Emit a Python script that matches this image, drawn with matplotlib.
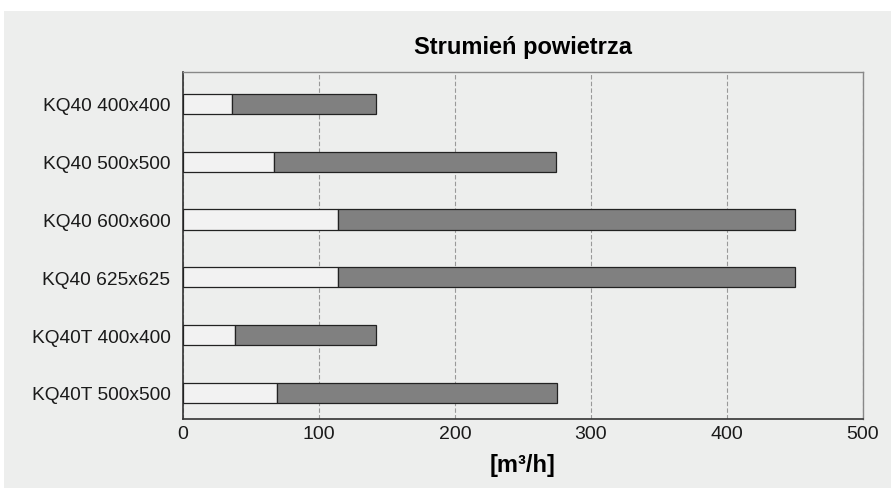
import matplotlib.pyplot as plt
from matplotlib.patches import Rectangle

plt.rcParams['font.family'] = ['Liberation Sans', 'DejaVu Sans']

labels = ['KQ40 400x400', 'KQ40 500x500', 'KQ40 600x600',
          'KQ40 625x625', 'KQ40T 400x400', 'KQ40T 500x500']
flow_min = [36, 67, 114, 114, 38, 69]
flow_max = [142, 274, 450, 450, 142, 275]

bg = '#edeeed'
fig = plt.figure(figsize=(8.91, 4.89), dpi=100)
fig.patch.set_facecolor('white')
fig.patches.append(Rectangle((0.004, 0), 0.996, 1 - 12 / 489, transform=fig.transFigure,
                             facecolor=bg, edgecolor='none', zorder=-10))

ax = fig.add_axes([183 / 891, 1 - 420 / 489, 680 / 891, 347 / 489])
ax.set_facecolor(bg)

pos = list(range(len(labels)))
ax.barh(pos, flow_min, height=0.35, color='#f2f2f2', edgecolor='#222222', linewidth=0.9, zorder=3)
ax.barh(pos, [b - a for a, b in zip(flow_min, flow_max)], left=flow_min, height=0.35,
        color='#808080', edgecolor='#222222', linewidth=0.9, zorder=3)

ax.set_xlim(0, 500)
ax.set_ylim(5.45, -0.55)
ax.set_yticks(pos)
ax.set_yticklabels(labels, fontsize=13.8, color='#1a1a1a')
ax.set_xticks([0, 100, 200, 300, 400, 500])
ax.tick_params(axis='x', labelsize=14, colors='#1a1a1a', length=0, pad=4)
ax.tick_params(axis='y', length=0, pad=9)
ax.xaxis.grid(True, linestyle=(0, (4, 2)), color='#999999', linewidth=0.8)
ax.set_axisbelow(True)

for s in ['left', 'bottom']:
    ax.spines[s].set_color('#333333')
    ax.spines[s].set_linewidth(1.2)
for s in ['top', 'right']:
    ax.spines[s].set_color('#888888')
    ax.spines[s].set_linewidth(1.0)

ax.set_title('Strumień powietrza', fontsize=17, fontweight='bold', pad=14)
ax.set_xlabel('[m³/h]', fontsize=17, fontweight='bold', labelpad=8)

fig.savefig('out.png', dpi=100, facecolor=fig.get_facecolor())
